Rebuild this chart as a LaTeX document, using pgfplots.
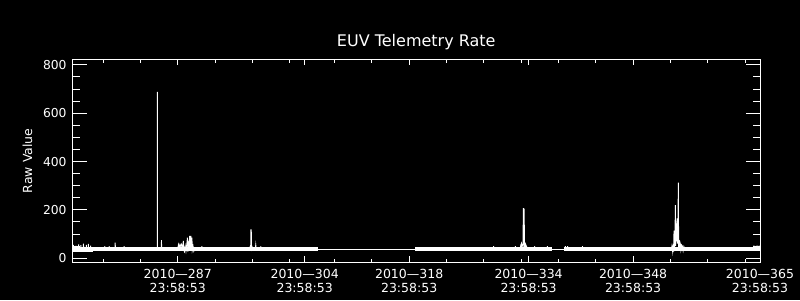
\documentclass[border=0pt]{standalone}
\usepackage{fontspec}
\setmainfont{DejaVu Sans}
\usepackage{pgfplots}
\pgfplotsset{compat=1.18}
\begin{document}
\begin{tikzpicture}
\fill[black] (0,0) rectangle (800pt,300pt);
\pgfplotsset{
  baseaxis/.style={
    at={(72.5pt,37.7pt)}, anchor=south west,
    scale only axis, width=687.5pt, height=203pt,
    xmin=272.9, xmax=365, ymin=-17, ymax=823,
    axis line style={white, line width=1pt},
    every tick/.style={white, line width=1pt},
    tick align=inside,
    /pgf/number format/assume math mode=true,
    tick label style={text=white},
  }
}
\begin{axis}[baseaxis,
  xtick=\empty,
  ytick={0,200,400,600,800},
  minor y tick num=3,
  major tick length=14pt, minor tick length=7pt,
  yticklabel style={font=\fontsize{12.3}{14}\selectfont, inner sep=0pt, xshift=-5.8pt},
  title={EUV Telemetry Rate},
  title style={text=white, font=\fontsize{16}{19}\selectfont, at={(0.5,1)}, anchor=base, yshift=7pt},
  ylabel={Raw Value},
  ylabel style={text=white, font=\fontsize{12.5}{14}\selectfont, at={(axis description cs:-0.06545,0.5)}, anchor=center},
  unbounded coords=jump,
]
% baseline band (dense noisy data drawn as a thick line)
\addplot[white, line width=3.8pt, line cap=butt] coordinates {(272.9,37.7) (305.8,37.7)};
\addplot[white, line width=3.8pt, line cap=butt] coordinates {(318.8,37.7) (337.1,37.7)};
\addplot[white, line width=3.8pt, line cap=butt] coordinates {(338.7,37.7) (365,37.7)};
% slightly wider band at the start
\addplot[white, line width=5pt, line cap=butt] coordinates {(272.9,38) (275.6,38)};
% data gaps
\addplot[white, line width=1pt] coordinates {(305.8,36.8) (318.8,36.8)};
\addplot[white, line width=1pt] coordinates {(337.1,38) (338.7,38)};
% spikes and noise
\addplot[white, line width=0.9pt] coordinates {
(273.0,40)(273.02,55)(273.04,40) (273.1,nan)
(273.35,40)(273.37,52)(273.39,40) (273.45,nan)
(273.7,40)(273.72,57)(273.74,40) (273.8,nan)
(274.0,40)(274.02,54)(274.04,40) (274.1,nan)
(274.35,40)(274.37,60)(274.39,40) (274.45,nan)
(274.75,40)(274.77,55)(274.79,40) (274.85,nan)
(275.0,40)(275.02,59)(275.04,40) (275.1,nan)
(275.3,40)(275.32,52)(275.34,40) (275.4,nan)
(277.2,40)(277.22,50)(277.25,40) (277.3,nan)
(277.8,40)(277.82,50)(277.85,40) (277.9,nan)
(278.6,40)(278.62,64)(278.65,40) (278.7,nan)
(279.8,40)(279.82,50)(279.85,40) (279.9,nan)
(284.25,40)(284.27,688)(284.29,40) (284.3,nan)
(284.8,40)(284.82,75)(284.84,40) (284.9,nan)
(287.0,40)(287.1,57)(287.2,45)(287.3,57)(287.4,48)(287.5,57)(287.6,45)(287.7,57)(287.75,72)(287.8,35)
(287.9,27)(288.0,50)(288.1,30)(288.2,55)(288.3,85)(288.35,27)(288.45,60)(288.55,35)(288.6,92)(288.65,45)
(288.75,92)(288.8,40)(288.9,85)(288.95,35)(289.05,50)(289.15,30)(289.25,40)
(289.3,nan)
(290.2,40)(290.22,50)(290.24,40) (290.3,nan)
(296.6,40)(296.7,48)(296.78,40)(296.8,117)(296.85,117)(296.87,40)(296.95,48)(297.05,40) (297.1,nan)
(297.4,40)(297.45,55)(297.5,40) (297.6,nan)
(298.1,40)(298.12,50)(298.14,40) (298.2,nan)
(329.3,40)(329.32,50)(329.34,40) (329.4,nan)
(332.2,40)(332.22,50)(332.24,40) (332.3,nan)
(332.9,40)(332.95,55)(333.05,62)(333.1,30)(333.15,50)(333.25,62)(333.3,207)(333.35,30)(333.4,205)(333.45,62)
(333.55,30)(333.6,58)(333.7,50)(333.85,40)
(333.9,nan)
(334.8,40)(334.82,50)(334.84,40) (334.9,nan)
(336.5,40)(336.52,50)(336.54,40) (336.6,nan)
(338.9,40)(338.92,50)(338.94,40) (339.0,nan)
(339.2,40)(339.22,50)(339.24,40) (339.3,nan)
(341.2,40)(341.22,50)(341.24,40) (341.3,nan)
(353.15,40)(353.2,50)(353.3,27)(353.39,59)(353.42,27)(353.48,114)(353.52,35)(353.56,110)(353.6,50)(353.66,220)
(353.7,50)(353.75,144)(353.8,70)(353.85,120)(353.88,165)(353.92,60)(354.0,110)(354.06,313)(354.1,45)(354.15,75)
(354.2,40)(354.28,65)(354.33,59)(354.4,35)(354.5,55)(354.6,50)(354.7,31)(354.8,48)(354.9,40)
(355.0,nan)
(364.1,40)(364.15,50)(364.4,48)(364.6,50)(364.8,49)(365,50)
};
\end{axis}
\begin{axis}[baseaxis,
  ytick=\empty,
  xtick={287,304,318,334,348,365},
  xticklabels={{2010—287\\23:58:53},{2010—304\\23:58:53},{2010—318\\23:58:53},{2010—334\\23:58:53},{2010—348\\23:58:53},{2010—365\\23:58:53}},
  minor xtick={277,282,292,297,302,308,313,323,328,333,338,343,353,358,363},
  major tick length=6pt, minor tick length=3.3pt,
  xticklabel style={align=center, font=\fontsize{12.5}{14}\selectfont, anchor=north, inner sep=0pt, yshift=-6.7pt},
]
\end{axis}
\end{tikzpicture}
\end{document}
